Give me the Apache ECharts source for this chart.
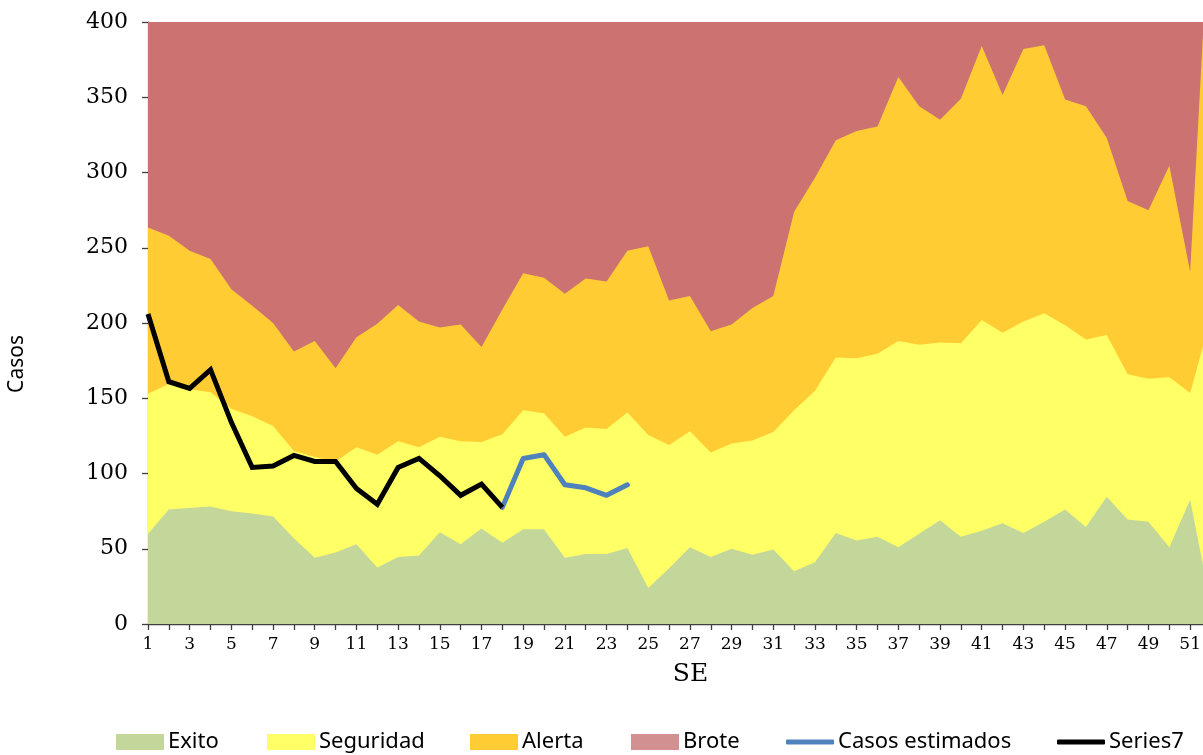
<!DOCTYPE html>
<html>
<head>
<meta charset="utf-8">
<title>Casos por SE</title>
<script src="https://cdn.jsdelivr.net/npm/echarts@6/dist/echarts.min.js"></script>
<style>
  html, body { margin: 0; padding: 0; background: #ffffff; overflow: hidden; }
  /* the drawing is slightly wider than the page: the last week falls just past the right edge */
  #chart { width: 1212px; height: 755px; }
</style>
</head>
<body>
<div id="chart"></div>
<script>
// Epidemiological weeks (SE)
const semanas = ['1','2','3','4','5','6','7','8','9','10','11','12','13','14','15','16','17','18','19','20',
  '21','22','23','24','25','26','27','28','29','30','31','32','33','34','35','36','37','38','39','40',
  '41','42','43','44','45','46','47','48','49','50','51','52'];

// Upper limit of each zone of the endemic channel (cumulative levels)
const exito = [60, 76, 77, 78, 75, 73.5, 71.5, 57, 44, 47.5, 53, 37.5, 44.5, 45.5, 61, 53, 63.5, 54, 63, 63,
  44, 46.5, 46.5, 50.5, 24, 37, 51, 44.5, 50, 46, 49.5, 35, 41, 60.5, 55.5, 58, 51, 60, 69, 58,
  62, 67, 60.5, 68, 76, 64.5, 84.5, 69.5, 68, 51, 82.5, 12];
const seguridad = [153, 159.5, 156, 154, 143, 138, 131.5, 115, 111, 108, 117.5, 112.5, 121.5, 117.5, 124.5, 121.5, 121, 126, 142, 140,
  124.5, 130.5, 129.5, 140.5, 125.5, 119, 128, 114, 120, 122, 127.5, 142, 155, 177, 176.5, 179.5, 188, 185.5, 187, 186.5,
  202, 193.5, 201, 206.5, 198.5, 189, 192, 166, 163, 164, 153.5, 204];
const alerta = [263.5, 258, 248, 242.5, 222.5, 211.5, 200, 181, 188, 170, 190.5, 199.5, 212, 201, 197, 199, 184, 209, 233, 230,
  219.5, 229.5, 227.5, 248, 251, 215, 218, 194.5, 199, 210, 218, 274, 296.5, 321.5, 327.5, 330.5, 363.5, 344, 335, 349,
  384, 351.5, 382, 384.5, 348.5, 344, 323, 281, 275, 304.5, 234, 490];
const brote = [400, 400, 400, 400, 400, 400, 400, 400, 400, 400, 400, 400, 400, 400, 400, 400, 400, 400, 400, 400,
  400, 400, 400, 400, 400, 400, 400, 400, 400, 400, 400, 400, 400, 400, 400, 400, 400, 400, 400, 400,
  400, 400, 400, 400, 400, 400, 400, 400, 400, 400, 400, 400];

// Reported cases and estimated cases
const series7 = [206, 161, 156.5, 169, 134, 104, 105, 112, 108, 108, 90, 79.5, 104, 110, 98.5, 85.5, 93, 77.5];
const casosEstimados = [null, null, null, null, null, null, null, null, null, null, null, null, null, null, null, null, null,
  77.5, 110, 112.5, 92.5, 90.5, 85.5, 92.5];

const yTicks = { min: 0, max: 400, interval: 50 };

const COLORS = {
  exito: '#C4D79B',
  seguridad: '#FFFF66',
  alerta: '#FFCC33',
  brote: '#CC7371',
  broteLegend: '#D39090',
  estimados: '#4F81BD',
  series7: '#000000'
};

const chart = echarts.init(document.getElementById('chart'), null, { renderer: 'canvas' });

function zone(name, data, color, z) {
  return {
    name: name,
    type: 'line',
    data: data,
    showSymbol: false,
    symbol: 'none',
    z: z,
    lineStyle: { width: 0, color: color },
    itemStyle: { color: color },
    areaStyle: { color: color, opacity: 1 },
    emphasis: { disabled: true },
    silent: true
  };
}

const legendFont = { fontFamily: '"Noto Sans", sans-serif', fontSize: 22, color: '#000000' };
function legendItem(name, left, opts) {
  return Object.assign({
    data: [name],
    left: left,
    top: 731,
    itemWidth: 48,
    itemHeight: 16,
    itemGap: 0,
    icon: 'rect',
    textStyle: Object.assign({ padding: [0, 0, 0, -1] }, legendFont),
    selectedMode: false,
    padding: 0
  }, opts || {});
}

const option = {
  backgroundColor: '#ffffff',
  animation: false,
  grid: { left: 148, top: 22, right: 1, bottom: 131, containLabel: false },
  legend: [
    legendItem('Exito', 116),
    legendItem('Seguridad', 267),
    legendItem('Alerta', 470),
    legendItem('Brote', 631, { itemStyle: { color: COLORS.broteLegend } }),
    legendItem('Casos estimados', 786, { icon: 'roundRect', itemHeight: 5 }),
    legendItem('Series7', 1057, { icon: 'roundRect', itemHeight: 5 })
  ],
  graphic: [{
    type: 'text',
    left: 7,
    top: 335,
    rotation: Math.PI / 2,
    style: {
      text: 'Casos',
      fontFamily: '"Noto Sans", sans-serif',
      fontSize: 21,
      fill: '#000'
    }
  }],
  xAxis: {
    type: 'category',
    data: semanas,
    boundaryGap: false,
    name: 'SE',
    nameLocation: 'middle',
    nameGap: 38,
    nameTextStyle: { fontFamily: '"DejaVu Serif", serif', fontSize: 25, color: '#000', padding: [0, 0, 0, 22] },
    axisLine: { show: true, lineStyle: { color: '#404040', width: 1.3 } },
    axisTick: { show: true, interval: 0, length: 6, lineStyle: { color: '#404040', width: 1.3 } },
    axisLabel: {
      interval: 1,
      margin: 12,
      fontFamily: '"DejaVu Serif", serif',
      fontSize: 17,
      color: '#000'
    },
    splitLine: { show: false }
  },
  yAxis: {
    type: 'value',
    min: yTicks.min,
    max: yTicks.max,
    interval: yTicks.interval,
    axisLine: { show: true, lineStyle: { color: '#868686', width: 1.3 } },
    axisTick: { show: true, length: 6, lineStyle: { color: '#404040', width: 1.3 } },
    axisLabel: {
      margin: 20,
      fontFamily: '"DejaVu Serif", serif',
      fontSize: 22,
      color: '#000'
    },
    splitLine: { show: false }
  },
  series: [
    zone('Brote', brote, COLORS.brote, 1),
    zone('Alerta', alerta, COLORS.alerta, 2),
    zone('Seguridad', seguridad, COLORS.seguridad, 3),
    zone('Exito', exito, COLORS.exito, 4),
    {
      name: 'Casos estimados',
      type: 'line',
      data: casosEstimados,
      showSymbol: false,
      symbol: 'none',
      z: 5,
      lineStyle: { color: COLORS.estimados, width: 5, cap: 'round', join: 'round' },
      itemStyle: { color: COLORS.estimados },
      silent: true
    },
    {
      name: 'Series7',
      type: 'line',
      data: series7,
      showSymbol: false,
      symbol: 'none',
      z: 6,
      lineStyle: { color: COLORS.series7, width: 5, cap: 'butt', join: 'miter' },
      itemStyle: { color: COLORS.series7 },
      silent: true
    }
  ]
};

chart.setOption(option);
</script>
</body>
</html>
